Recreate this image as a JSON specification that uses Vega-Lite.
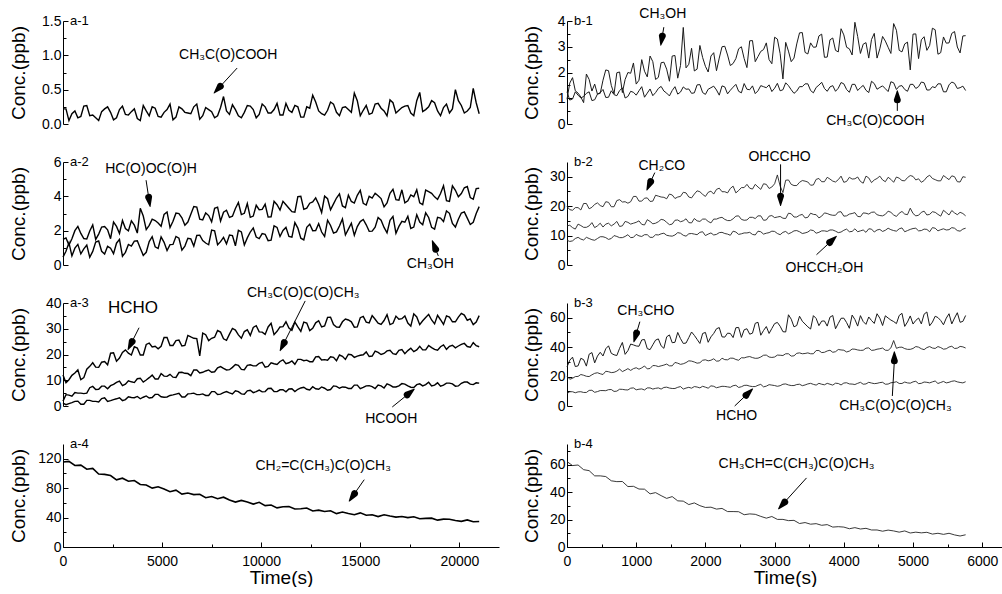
{
"$schema":"https://vega.github.io/schema/vega-lite/v6.json",
"autosize":{"type":"pad"},
"padding":{"left":8,"top":7,"right":0,"bottom":0},
"background":"white",
"config":{"font":"Liberation Sans","view":{"stroke":null},
"axis":{"grid":false,"domainColor":"#000","tickColor":"#000","labelColor":"#000","titleColor":"#000","labelFont":"Liberation Sans","titleFont":"Liberation Sans","labelFontSize":14,"titleFontSize":19,"titleFontWeight":"normal","tickSize":-5,"labelPadding":7,"titlePadding":4,"tickWidth":1,"domainWidth":1,"labelFlush":false,"labelOverlap":false},
"text":{"font":"Liberation Sans","color":"#000"}},
"datasets":{
"a1":[{"t":0,"p":0.22},{"t":300,"p":0.05},{"t":600,"p":0.19},{"t":900,"p":0.11},{"t":1200,"p":0.27},{"t":1500,"p":0.13},{"t":1800,"p":0.05},{"t":2100,"p":0.22},{"t":2400,"p":0.17},{"t":2700,"p":0.09},{"t":3000,"p":0.26},{"t":3300,"p":0.13},{"t":3600,"p":0.22},{"t":3900,"p":0.05},{"t":4200,"p":0.19},{"t":4500,"p":0.25},{"t":4800,"p":0.11},{"t":5100,"p":0.17},{"t":5400,"p":0.29},{"t":5700,"p":0.10},{"t":6000,"p":0.22},{"t":6300,"p":0.16},{"t":6600,"p":0.25},{"t":6900,"p":0.07},{"t":7200,"p":0.24},{"t":7500,"p":0.18},{"t":7800,"p":0.12},{"t":8100,"p":0.40},{"t":8400,"p":0.14},{"t":8700,"p":0.21},{"t":9000,"p":0.09},{"t":9300,"p":0.27},{"t":9600,"p":0.21},{"t":9900,"p":0.14},{"t":10200,"p":0.25},{"t":10500,"p":0.16},{"t":10800,"p":0.30},{"t":11100,"p":0.13},{"t":11400,"p":0.20},{"t":11700,"p":0.27},{"t":12000,"p":0.10},{"t":12300,"p":0.25},{"t":12600,"p":0.42},{"t":12900,"p":0.19},{"t":13200,"p":0.13},{"t":13500,"p":0.32},{"t":13800,"p":0.17},{"t":14100,"p":0.24},{"t":14400,"p":0.21},{"t":14700,"p":0.45},{"t":15000,"p":0.12},{"t":15300,"p":0.27},{"t":15600,"p":0.16},{"t":15900,"p":0.30},{"t":16200,"p":0.19},{"t":16500,"p":0.35},{"t":16800,"p":0.16},{"t":17100,"p":0.24},{"t":17400,"p":0.27},{"t":17700,"p":0.12},{"t":18000,"p":0.46},{"t":18300,"p":0.21},{"t":18600,"p":0.34},{"t":18900,"p":0.19},{"t":19200,"p":0.24},{"t":19500,"p":0.16},{"t":19800,"p":0.50},{"t":20100,"p":0.27},{"t":20400,"p":0.19},{"t":20700,"p":0.52},{"t":21000,"p":0.15},
{"t":150,"p":0.22},{"t":450,"p":0.15},{"t":750,"p":0.09},{"t":1050,"p":0.26},{"t":1350,"p":0.12},{"t":1650,"p":0.09},{"t":1950,"p":0.18},{"t":2250,"p":0.25},{"t":2550,"p":0.06},{"t":2850,"p":0.21},{"t":3150,"p":0.14},{"t":3450,"p":0.18},{"t":3750,"p":0.08},{"t":4050,"p":0.27},{"t":4350,"p":0.12},{"t":4650,"p":0.23},{"t":4950,"p":0.10},{"t":5250,"p":0.21},{"t":5550,"p":0.06},{"t":5850,"p":0.25},{"t":6150,"p":0.17},{"t":6450,"p":0.15},{"t":6750,"p":0.29},{"t":7050,"p":0.12},{"t":7350,"p":0.21},{"t":7650,"p":0.09},{"t":7950,"p":0.24},{"t":8250,"p":0.19},{"t":8550,"p":0.28},{"t":8850,"p":0.12},{"t":9150,"p":0.17},{"t":9450,"p":0.26},{"t":9750,"p":0.09},{"t":10050,"p":0.29},{"t":10350,"p":0.16},{"t":10650,"p":0.21},{"t":10950,"p":0.13},{"t":11250,"p":0.30},{"t":11550,"p":0.17},{"t":11850,"p":0.25},{"t":12150,"p":0.10},{"t":12450,"p":0.23},{"t":12750,"p":0.32},{"t":13050,"p":0.15},{"t":13350,"p":0.20},{"t":13650,"p":0.29},{"t":13950,"p":0.12},{"t":14250,"p":0.25},{"t":14550,"p":0.17},{"t":14850,"p":0.34},{"t":15150,"p":0.20},{"t":15450,"p":0.14},{"t":15750,"p":0.29},{"t":16050,"p":0.23},{"t":16350,"p":0.12},{"t":16650,"p":0.31},{"t":16950,"p":0.20},{"t":17250,"p":0.26},{"t":17550,"p":0.16},{"t":17850,"p":0.34},{"t":18150,"p":0.18},{"t":18450,"p":0.25},{"t":18750,"p":0.31},{"t":19050,"p":0.12},{"t":19350,"p":0.29},{"t":19650,"p":0.22},{"t":19950,"p":0.34},{"t":20250,"p":0.16},{"t":20550,"p":0.24},{"t":20850,"p":0.31}],
"a2":[{"t":0,"f":1.49,"m":0.46},{"t":300,"f":1.16,"m":1.30},{"t":600,"f":2.00,"m":0.98},{"t":900,"f":1.84,"m":0.65},{"t":1200,"f":1.51,"m":1.16},{"t":1500,"f":2.34,"m":0.79},{"t":1800,"f":1.80,"m":1.40},{"t":2100,"f":2.24,"m":0.64},{"t":2400,"f":1.53,"m":0.98},{"t":2700,"f":2.25,"m":1.27},{"t":3000,"f":2.59,"m":0.51},{"t":3300,"f":1.99,"m":1.20},{"t":3600,"f":2.32,"m":1.39},{"t":3900,"f":3.30,"m":0.98},{"t":4200,"f":2.06,"m":0.74},{"t":4500,"f":2.67,"m":1.65},{"t":4800,"f":2.45,"m":0.96},{"t":5100,"f":2.95,"m":1.32},{"t":5400,"f":2.18,"m":1.19},{"t":5700,"f":3.02,"m":1.66},{"t":6000,"f":2.75,"m":0.86},{"t":6300,"f":2.50,"m":1.56},{"t":6600,"f":3.41,"m":1.10},{"t":6900,"f":2.67,"m":1.74},{"t":7200,"f":3.03,"m":1.28},{"t":7500,"f":2.51,"m":2.03},{"t":7800,"f":3.37,"m":1.18},{"t":8100,"f":3.07,"m":1.61},{"t":8400,"f":2.77,"m":1.75},{"t":8700,"f":3.29,"m":1.12},{"t":9000,"f":2.94,"m":1.93},{"t":9300,"f":3.58,"m":1.58},{"t":9600,"f":2.85,"m":2.16},{"t":9900,"f":3.22,"m":1.54},{"t":10200,"f":3.54,"m":1.79},{"t":10500,"f":2.81,"m":1.45},{"t":10800,"f":3.51,"m":2.19},{"t":11100,"f":3.71,"m":2.01},{"t":11400,"f":3.31,"m":1.66},{"t":11700,"f":3.08,"m":2.47},{"t":12000,"f":4.00,"m":1.56},{"t":12300,"f":3.31,"m":2.20},{"t":12600,"f":3.67,"m":2.00},{"t":12900,"f":3.54,"m":2.41},{"t":13200,"f":4.01,"m":1.66},{"t":13500,"f":3.21,"m":2.30},{"t":13800,"f":3.90,"m":1.93},{"t":14100,"f":3.44,"m":2.68},{"t":14400,"f":4.07,"m":2.09},{"t":14700,"f":3.61,"m":1.73},{"t":15000,"f":4.35,"m":2.53},{"t":15300,"f":3.49,"m":2.34},{"t":15600,"f":3.90,"m":1.97},{"t":15900,"f":4.03,"m":2.77},{"t":16200,"f":3.39,"m":2.19},{"t":16500,"f":4.18,"m":2.60},{"t":16800,"f":3.81,"m":1.85},{"t":17100,"f":4.38,"m":2.54},{"t":17400,"f":3.74,"m":2.84},{"t":17700,"f":3.98,"m":2.21},{"t":18000,"f":3.62,"m":2.50},{"t":18300,"f":4.36,"m":3.04},{"t":18600,"f":4.17,"m":2.19},{"t":18900,"f":3.82,"m":2.78},{"t":19200,"f":4.62,"m":2.53},{"t":19500,"f":3.71,"m":3.01},{"t":19800,"f":4.35,"m":2.21},{"t":20100,"f":4.16,"m":3.03},{"t":20400,"f":4.57,"m":2.73},{"t":20700,"f":3.83,"m":2.49},{"t":21000,"f":4.47,"m":3.40},
{"t":150,"f":1.58,"m":0.80},{"t":450,"f":1.53,"m":0.53},{"t":750,"f":2.25,"m":1.20},{"t":1050,"f":1.54,"m":0.94},{"t":1350,"f":1.98,"m":0.45},{"t":1650,"f":1.49,"m":1.34},{"t":1950,"f":2.21,"m":0.80},{"t":2250,"f":2.05,"m":1.09},{"t":2550,"f":2.50,"m":0.66},{"t":2850,"f":1.84,"m":1.49},{"t":3150,"f":2.12,"m":0.74},{"t":3450,"f":2.57,"m":1.10},{"t":3750,"f":1.86,"m":1.41},{"t":4050,"f":2.85,"m":0.56},{"t":4350,"f":2.31,"m":1.36},{"t":4650,"f":2.59,"m":1.06},{"t":4950,"f":2.26,"m":1.64},{"t":5250,"f":3.09,"m":0.84},{"t":5550,"f":2.55,"m":1.20},{"t":5850,"f":2.99,"m":1.56},{"t":6150,"f":2.32,"m":1.10},{"t":6450,"f":2.96,"m":1.52},{"t":6750,"f":3.37,"m":1.72},{"t":7050,"f":2.63,"m":1.42},{"t":7350,"f":2.88,"m":1.18},{"t":7650,"f":3.30,"m":1.99},{"t":7950,"f":2.56,"m":1.36},{"t":8250,"f":3.19,"m":1.23},{"t":8550,"f":2.84,"m":1.71},{"t":8850,"f":3.64,"m":2.02},{"t":9150,"f":3.01,"m":1.17},{"t":9450,"f":2.78,"m":1.92},{"t":9750,"f":3.48,"m":1.63},{"t":10050,"f":3.24,"m":1.83},{"t":10350,"f":2.79,"m":1.42},{"t":10650,"f":3.71,"m":2.28},{"t":10950,"f":3.20,"m":1.66},{"t":11250,"f":3.51,"m":2.19},{"t":11550,"f":3.11,"m":1.62},{"t":11850,"f":3.98,"m":2.15},{"t":12150,"f":3.24,"m":1.46},{"t":12450,"f":3.60,"m":2.37},{"t":12750,"f":3.91,"m":2.01},{"t":13050,"f":3.06,"m":1.92},{"t":13350,"f":3.86,"m":2.61},{"t":13650,"f":3.56,"m":1.86},{"t":13950,"f":4.14,"m":2.27},{"t":14250,"f":3.34,"m":1.75},{"t":14550,"f":3.70,"m":2.43},{"t":14850,"f":4.06,"m":2.24},{"t":15150,"f":3.59,"m":2.65},{"t":15450,"f":4.00,"m":1.96},{"t":15750,"f":4.18,"m":2.20},{"t":16050,"f":3.87,"m":2.61},{"t":16350,"f":3.62,"m":1.87},{"t":16650,"f":4.41,"m":2.83},{"t":16950,"f":3.77,"m":2.25},{"t":17250,"f":3.62,"m":2.49},{"t":17550,"f":4.08,"m":2.13},{"t":17850,"f":4.38,"m":2.93},{"t":18150,"f":3.52,"m":2.35},{"t":18450,"f":4.27,"m":2.77},{"t":18750,"f":3.97,"m":2.09},{"t":19050,"f":4.16,"m":2.73},{"t":19350,"f":3.75,"m":3.15},{"t":19650,"f":4.61,"m":2.42},{"t":19950,"f":3.98,"m":2.67},{"t":20250,"f":4.50,"m":3.09},{"t":20550,"f":3.93,"m":2.36},{"t":20850,"f":4.45,"m":3.00}],
"a3":[{"t":0,"h":12.0,"d":1.9,"f":1.1},{"t":300,"h":10.2,"d":4.2,"f":0.9},{"t":600,"h":12.8,"d":5.2,"f":1.8},{"t":900,"h":10.2,"d":5.0,"f":0.7},{"t":1200,"h":14.3,"d":5.0,"f":2.2},{"t":1500,"h":16.8,"d":7.6,"f":1.8},{"t":1800,"h":15.0,"d":6.5,"f":1.6},{"t":2100,"h":17.3,"d":7.7,"f":3.2},{"t":2400,"h":20.5,"d":7.9,"f":2.1},{"t":2700,"h":17.4,"d":9.2,"f":2.8},{"t":3000,"h":20.8,"d":7.9,"f":2.1},{"t":3300,"h":20.5,"d":9.8,"f":3.6},{"t":3600,"h":23.0,"d":9.1,"f":3.2},{"t":3900,"h":19.8,"d":10.8,"f":2.8},{"t":4200,"h":23.9,"d":10.1,"f":3.9},{"t":4500,"h":22.9,"d":12.0,"f":3.3},{"t":4800,"h":22.2,"d":10.5,"f":4.5},{"t":5100,"h":26.6,"d":11.6,"f":3.4},{"t":5400,"h":23.5,"d":12.3,"f":4.1},{"t":5700,"h":25.4,"d":11.1,"f":4.6},{"t":6000,"h":23.3,"d":13.1,"f":3.5},{"t":6300,"h":27.4,"d":12.6,"f":4.7},{"t":6600,"h":26.3,"d":14.0,"f":5.0},{"t":6900,"h":19.5,"d":12.8,"f":4.4},{"t":7200,"h":27.7,"d":13.6,"f":4.1},{"t":7500,"h":26.3,"d":13.1,"f":5.6},{"t":7800,"h":29.3,"d":14.8,"f":4.5},{"t":8100,"h":26.1,"d":14.6,"f":5.2},{"t":8400,"h":27.9,"d":14.1,"f":5.1},{"t":8700,"h":29.5,"d":16.1,"f":5.9},{"t":9000,"h":26.3,"d":14.2,"f":4.7},{"t":9300,"h":29.6,"d":15.8,"f":5.9},{"t":9600,"h":30.5,"d":15.6,"f":5.2},{"t":9900,"h":28.8,"d":16.6,"f":6.2},{"t":10200,"h":27.8,"d":15.1,"f":5.6},{"t":10500,"h":32.1,"d":16.8,"f":6.9},{"t":10800,"h":29.0,"d":16.1,"f":5.6},{"t":11100,"h":30.8,"d":17.9,"f":6.3},{"t":11400,"h":30.3,"d":16.8,"f":6.6},{"t":11700,"h":32.6,"d":16.2,"f":5.6},{"t":12000,"h":29.0,"d":18.1,"f":7.0},{"t":12300,"h":32.2,"d":17.8,"f":6.5},{"t":12600,"h":30.2,"d":17.2,"f":7.5},{"t":12900,"h":33.1,"d":19.2,"f":6.5},{"t":13200,"h":31.1,"d":18.0,"f":6.9},{"t":13500,"h":34.5,"d":19.1,"f":6.4},{"t":13800,"h":30.7,"d":17.6,"f":7.6},{"t":14100,"h":32.7,"d":19.3,"f":7.4},{"t":14400,"h":33.4,"d":20.1,"f":6.8},{"t":14700,"h":30.6,"d":18.9,"f":8.1},{"t":15000,"h":34.3,"d":19.7,"f":6.7},{"t":15300,"h":32.6,"d":21.0,"f":7.8},{"t":15600,"h":35.1,"d":19.4,"f":7.5},{"t":15900,"h":32.2,"d":20.8,"f":8.1},{"t":16200,"h":33.2,"d":20.4,"f":7.0},{"t":16500,"h":31.6,"d":21.6,"f":8.1},{"t":16800,"h":34.9,"d":20.0,"f":7.4},{"t":17100,"h":33.9,"d":21.9,"f":8.7},{"t":17400,"h":32.2,"d":21.5,"f":7.8},{"t":17700,"h":35.8,"d":21.1,"f":7.2},{"t":18000,"h":31.6,"d":23.2,"f":8.6},{"t":18300,"h":34.4,"d":21.8,"f":8.3},{"t":18600,"h":33.4,"d":22.7,"f":7.8},{"t":18900,"h":35.2,"d":21.7,"f":9.0},{"t":19200,"h":31.7,"d":23.7,"f":8.1},{"t":19500,"h":34.5,"d":23.2,"f":8.9},{"t":19800,"h":32.7,"d":22.6,"f":7.7},{"t":20100,"h":36.0,"d":23.9,"f":8.8},{"t":20400,"h":33.3,"d":23.1,"f":9.3},{"t":20700,"h":31.6,"d":24.6,"f":8.3},{"t":21000,"h":35.1,"d":23.0,"f":8.9},
{"t":150,"h":9.0,"d":4.4,"f":0.5},{"t":450,"h":11.9,"d":3.8,"f":1.3},{"t":750,"h":14.0,"d":5.0,"f":1.9},{"t":1050,"h":11.0,"d":4.8,"f":0.7},{"t":1350,"h":15.4,"d":7.1,"f":2.2},{"t":1650,"h":15.1,"d":6.4,"f":1.8},{"t":1950,"h":17.0,"d":7.7,"f":2.9},{"t":2250,"h":16.0,"d":6.7,"f":1.8},{"t":2550,"h":20.7,"d":8.4,"f":2.5},{"t":2850,"h":18.6,"d":9.7,"f":3.2},{"t":3150,"h":21.8,"d":8.5,"f":2.5},{"t":3450,"h":19.8,"d":9.4,"f":3.3},{"t":3750,"h":22.5,"d":10.6,"f":3.7},{"t":4050,"h":19.8,"d":9.3,"f":3.4},{"t":4350,"h":24.4,"d":11.0,"f":3.1},{"t":4650,"h":23.2,"d":10.5,"f":4.5},{"t":4950,"h":23.2,"d":12.6,"f":3.6},{"t":5250,"h":26.6,"d":11.5,"f":3.5},{"t":5550,"h":23.5,"d":11.2,"f":4.3},{"t":5850,"h":25.6,"d":13.0,"f":4.9},{"t":6150,"h":23.5,"d":12.7,"f":3.5},{"t":6450,"h":26.8,"d":11.8,"f":4.8},{"t":6750,"h":26.2,"d":14.0,"f":4.4},{"t":7050,"h":28.3,"d":13.1,"f":4.7},{"t":7350,"h":25.4,"d":14.0,"f":4.1},{"t":7650,"h":26.7,"d":13.3,"f":5.6},{"t":7950,"h":28.7,"d":15.3,"f":4.6},{"t":8250,"h":25.5,"d":14.0,"f":5.6},{"t":8550,"h":30.1,"d":15.0,"f":4.7},{"t":8850,"h":27.6,"d":15.8,"f":5.6},{"t":9150,"h":28.9,"d":14.1,"f":4.6},{"t":9450,"h":27.4,"d":16.0,"f":6.1},{"t":9750,"h":31.2,"d":15.6,"f":5.6},{"t":10050,"h":28.7,"d":17.0,"f":5.5},{"t":10350,"h":30.7,"d":15.4,"f":6.8},{"t":10650,"h":27.7,"d":16.4,"f":5.6},{"t":10950,"h":30.7,"d":17.3,"f":6.3},{"t":11250,"h":32.7,"d":16.4,"f":5.5},{"t":11550,"h":29.4,"d":17.5,"f":6.7},{"t":11850,"h":30.7,"d":18.1,"f":6.5},{"t":12150,"h":32.6,"d":17.6,"f":7.3},{"t":12450,"h":29.3,"d":17.2,"f":6.2},{"t":12750,"h":32.3,"d":19.1,"f":6.7},{"t":13050,"h":30.7,"d":17.9,"f":7.4},{"t":13350,"h":34.4,"d":17.8,"f":6.1},{"t":13650,"h":31.6,"d":18.9,"f":7.8},{"t":13950,"h":30.6,"d":19.8,"f":6.9},{"t":14250,"h":33.8,"d":18.1,"f":7.3},{"t":14550,"h":32.7,"d":19.9,"f":6.8},{"t":14850,"h":30.7,"d":19.4,"f":8.1},{"t":15150,"h":34.8,"d":19.9,"f":7.2},{"t":15450,"h":32.3,"d":19.2,"f":7.9},{"t":15750,"h":33.7,"d":21.3,"f":6.8},{"t":16050,"h":31.7,"d":20.0,"f":7.8},{"t":16350,"h":35.5,"d":21.4,"f":8.6},{"t":16650,"h":32.1,"d":20.3,"f":7.4},{"t":16950,"h":33.7,"d":21.6,"f":7.8},{"t":17250,"h":35.0,"d":20.3,"f":8.5},{"t":17550,"h":31.0,"d":22.4,"f":7.3},{"t":17850,"h":34.6,"d":21.8,"f":8.3},{"t":18150,"h":33.1,"d":21.8,"f":7.8},{"t":18450,"h":35.6,"d":23.5,"f":9.2},{"t":18750,"h":31.9,"d":22.0,"f":8.1},{"t":19050,"h":33.5,"d":23.0,"f":7.7},{"t":19350,"h":35.0,"d":22.0,"f":8.9},{"t":19650,"h":32.7,"d":23.6,"f":8.6},{"t":19950,"h":34.5,"d":23.3,"f":7.8},{"t":20250,"h":35.3,"d":24.3,"f":9.3},{"t":20550,"h":33.8,"d":22.8,"f":8.5},{"t":20850,"h":32.6,"d":23.4,"f":9.0}],
"a4":[{"t":0,"k":115.6},{"t":300,"k":116.4},{"t":600,"k":110.8},{"t":900,"k":111.3},{"t":1200,"k":105.7},{"t":1500,"k":106.8},{"t":1800,"k":99.2},{"t":2100,"k":98.7},{"t":2400,"k":97.1},{"t":2700,"k":91.3},{"t":3000,"k":93.5},{"t":3300,"k":89.4},{"t":3600,"k":90.4},{"t":3900,"k":85.0},{"t":4200,"k":84.2},{"t":4500,"k":80.0},{"t":4800,"k":81.8},{"t":5100,"k":78.8},{"t":5400,"k":75.2},{"t":5700,"k":77.3},{"t":6000,"k":71.9},{"t":6300,"k":73.4},{"t":6600,"k":71.2},{"t":6900,"k":71.7},{"t":7200,"k":67.0},{"t":7500,"k":68.6},{"t":7800,"k":65.6},{"t":8100,"k":67.7},{"t":8400,"k":63.8},{"t":8700,"k":61.0},{"t":9000,"k":63.3},{"t":9300,"k":61.2},{"t":9600,"k":58.3},{"t":9900,"k":60.7},{"t":10200,"k":56.3},{"t":10500,"k":57.1},{"t":10800,"k":53.2},{"t":11100,"k":54.7},{"t":11400,"k":54.9},{"t":11700,"k":51.7},{"t":12000,"k":51.9},{"t":12300,"k":52.9},{"t":12600,"k":48.9},{"t":12900,"k":50.1},{"t":13200,"k":48.3},{"t":13500,"k":49.2},{"t":13800,"k":45.4},{"t":14100,"k":47.5},{"t":14400,"k":45.6},{"t":14700,"k":43.9},{"t":15000,"k":46.4},{"t":15300,"k":43.1},{"t":15600,"k":43.8},{"t":15900,"k":41.3},{"t":16200,"k":43.8},{"t":16500,"k":42.1},{"t":16800,"k":40.6},{"t":17100,"k":41.5},{"t":17400,"k":40.0},{"t":17700,"k":41.1},{"t":18000,"k":38.5},{"t":18300,"k":38.9},{"t":18600,"k":39.2},{"t":18900,"k":36.5},{"t":19200,"k":37.9},{"t":19500,"k":37.8},{"t":19800,"k":36.1},{"t":20100,"k":34.8},{"t":20400,"k":36.8},{"t":20700,"k":34.3},{"t":21000,"k":34.7}],
"b1":[{"t":0,"m":0.96,"p":1.25},{"t":80,"m":1.80,"p":0.97},{"t":160,"m":1.20,"p":1.12},{"t":240,"m":0.83,"p":1.07},{"t":320,"m":1.73,"p":1.25},{"t":400,"m":1.55,"p":0.94},{"t":480,"m":1.19,"p":1.22},{"t":560,"m":2.10,"p":1.03},{"t":640,"m":1.50,"p":1.29},{"t":720,"m":1.99,"p":1.10},{"t":800,"m":1.22,"p":1.40},{"t":880,"m":2.00,"p":1.07},{"t":960,"m":2.37,"p":1.23},{"t":1040,"m":1.70,"p":1.29},{"t":1120,"m":2.05,"p":1.04},{"t":1200,"m":2.64,"p":1.36},{"t":1280,"m":1.73,"p":1.22},{"t":1360,"m":2.38,"p":1.46},{"t":1440,"m":2.13,"p":1.20},{"t":1520,"m":2.64,"p":1.30},{"t":1600,"m":1.78,"p":1.16},{"t":1680,"m":3.75,"p":1.44},{"t":1760,"m":2.32,"p":1.36},{"t":1840,"m":2.06,"p":1.21},{"t":1920,"m":3.05,"p":1.53},{"t":2000,"m":2.24,"p":1.15},{"t":2080,"m":2.64,"p":1.41},{"t":2160,"m":2.07,"p":1.32},{"t":2240,"m":3.00,"p":1.48},{"t":2320,"m":2.68,"p":1.17},{"t":2400,"m":2.35,"p":1.43},{"t":2480,"m":2.92,"p":1.27},{"t":2560,"m":2.54,"p":1.57},{"t":2640,"m":3.23,"p":1.33},{"t":2720,"m":2.42,"p":1.18},{"t":2800,"m":2.82,"p":1.49},{"t":2880,"m":3.15,"p":1.41},{"t":2960,"m":2.34,"p":1.26},{"t":3040,"m":3.30,"p":1.58},{"t":3120,"m":1.75,"p":1.33},{"t":3200,"m":2.83,"p":1.49},{"t":3280,"m":2.56,"p":1.19},{"t":3360,"m":3.54,"p":1.45},{"t":3440,"m":2.78,"p":1.56},{"t":3520,"m":3.15,"p":1.30},{"t":3600,"m":2.99,"p":1.42},{"t":3680,"m":3.49,"p":1.62},{"t":3760,"m":2.60,"p":1.27},{"t":3840,"m":3.34,"p":1.49},{"t":3920,"m":2.80,"p":1.39},{"t":4000,"m":3.46,"p":1.56},{"t":4080,"m":2.92,"p":1.23},{"t":4160,"m":3.95,"p":1.54},{"t":4240,"m":2.74,"p":1.41},{"t":4320,"m":3.16,"p":1.31},{"t":4400,"m":3.28,"p":1.66},{"t":4480,"m":2.56,"p":1.35},{"t":4560,"m":3.40,"p":1.48},{"t":4640,"m":2.98,"p":1.26},{"t":4720,"m":3.90,"p":1.60},{"t":4800,"m":2.86,"p":1.47},{"t":4880,"m":3.11,"p":1.34},{"t":4960,"m":2.10,"p":1.54},{"t":5040,"m":3.50,"p":1.38},{"t":5120,"m":3.27,"p":1.63},{"t":5200,"m":2.86,"p":1.32},{"t":5280,"m":3.72,"p":1.45},{"t":5360,"m":2.71,"p":1.56},{"t":5440,"m":3.38,"p":1.25},{"t":5520,"m":3.15,"p":1.52},{"t":5600,"m":3.59,"p":1.58},{"t":5680,"m":2.76,"p":1.41},{"t":5760,"m":3.43,"p":1.30},
{"t":40,"m":1.59,"p":0.93},{"t":120,"m":1.29,"p":1.25},{"t":200,"m":1.05,"p":1.01},{"t":280,"m":1.94,"p":1.19},{"t":360,"m":1.28,"p":0.91},{"t":440,"m":1.16,"p":1.16},{"t":520,"m":1.70,"p":1.34},{"t":600,"m":2.07,"p":1.04},{"t":680,"m":1.17,"p":1.14},{"t":760,"m":2.02,"p":1.30},{"t":840,"m":1.73,"p":1.01},{"t":920,"m":1.97,"p":1.27},{"t":1000,"m":1.55,"p":1.12},{"t":1080,"m":2.50,"p":1.45},{"t":1160,"m":1.83,"p":1.20},{"t":1240,"m":2.42,"p":1.10},{"t":1320,"m":1.81,"p":1.38},{"t":1400,"m":2.40,"p":1.28},{"t":1480,"m":1.66,"p":1.09},{"t":1560,"m":2.66,"p":1.45},{"t":1640,"m":2.27,"p":1.24},{"t":1720,"m":2.18,"p":1.35},{"t":1800,"m":2.94,"p":1.19},{"t":1880,"m":2.13,"p":1.52},{"t":1960,"m":2.58,"p":1.22},{"t":2040,"m":2.02,"p":1.35},{"t":2120,"m":2.77,"p":1.47},{"t":2200,"m":2.56,"p":1.12},{"t":2280,"m":3.02,"p":1.44},{"t":2360,"m":2.27,"p":1.31},{"t":2440,"m":2.54,"p":1.54},{"t":2520,"m":3.00,"p":1.21},{"t":2600,"m":2.19,"p":1.35},{"t":2680,"m":3.24,"p":1.48},{"t":2760,"m":2.62,"p":1.29},{"t":2840,"m":2.89,"p":1.45},{"t":2920,"m":2.50,"p":1.52},{"t":3000,"m":3.37,"p":1.39},{"t":3080,"m":2.73,"p":1.29},{"t":3160,"m":3.17,"p":1.60},{"t":3240,"m":2.42,"p":1.33},{"t":3320,"m":3.11,"p":1.28},{"t":3400,"m":3.55,"p":1.45},{"t":3480,"m":2.72,"p":1.56},{"t":3560,"m":2.98,"p":1.21},{"t":3640,"m":3.42,"p":1.51},{"t":3720,"m":2.59,"p":1.38},{"t":3800,"m":3.27,"p":1.44},{"t":3880,"m":2.86,"p":1.27},{"t":3960,"m":3.70,"p":1.61},{"t":4040,"m":2.98,"p":1.34},{"t":4120,"m":2.68,"p":1.54},{"t":4200,"m":3.40,"p":1.30},{"t":4280,"m":3.10,"p":1.50},{"t":4360,"m":2.56,"p":1.22},{"t":4440,"m":3.52,"p":1.57},{"t":4520,"m":2.92,"p":1.42},{"t":4600,"m":3.22,"p":1.37},{"t":4680,"m":2.74,"p":1.64},{"t":4760,"m":3.64,"p":1.34},{"t":4840,"m":2.80,"p":1.49},{"t":4920,"m":3.18,"p":1.27},{"t":5000,"m":3.49,"p":1.54},{"t":5080,"m":2.54,"p":1.45},{"t":5160,"m":3.39,"p":1.60},{"t":5240,"m":3.05,"p":1.32},{"t":5320,"m":3.66,"p":1.41},{"t":5400,"m":2.77,"p":1.56},{"t":5480,"m":3.14,"p":1.25},{"t":5560,"m":3.52,"p":1.63},{"t":5640,"m":2.99,"p":1.38},{"t":5720,"m":3.42,"p":1.47}],
"b2":[{"t":0,"k":19.9,"g":13.3,"o":8.4},{"t":80,"k":18.6,"g":12.7,"o":8.2},{"t":160,"k":19.5,"g":13.9,"o":9.4},{"t":240,"k":20.9,"g":12.8,"o":8.5},{"t":320,"k":19.1,"g":13.3,"o":9.0},{"t":400,"k":20.6,"g":12.7,"o":8.4},{"t":480,"k":20.2,"g":14.2,"o":9.6},{"t":560,"k":21.5,"g":13.9,"o":9.3},{"t":640,"k":19.8,"g":13.3,"o":9.0},{"t":720,"k":21.9,"g":14.8,"o":9.7},{"t":800,"k":21.4,"g":13.3,"o":9.3},{"t":880,"k":21.0,"g":14.5,"o":10.3},{"t":960,"k":23.3,"g":14.2,"o":9.4},{"t":1040,"k":21.7,"g":15.0,"o":9.9},{"t":1120,"k":22.7,"g":13.6,"o":10.3},{"t":1200,"k":21.6,"g":14.8,"o":9.4},{"t":1280,"k":23.7,"g":14.2,"o":10.3},{"t":1360,"k":23.1,"g":15.5,"o":10.6},{"t":1440,"k":22.5,"g":14.5,"o":10.1},{"t":1520,"k":23.8,"g":13.9,"o":9.8},{"t":1600,"k":23.1,"g":15.3,"o":11.0},{"t":1680,"k":24.7,"g":15.0,"o":10.1},{"t":1760,"k":23.1,"g":14.4,"o":10.6},{"t":1840,"k":24.1,"g":15.8,"o":10.5},{"t":1920,"k":24.9,"g":14.8,"o":11.1},{"t":2000,"k":23.3,"g":15.6,"o":10.0},{"t":2080,"k":25.1,"g":14.3,"o":10.9},{"t":2160,"k":25.7,"g":15.6,"o":10.4},{"t":2240,"k":24.9,"g":16.2,"o":11.1},{"t":2320,"k":24.5,"g":15.1,"o":10.5},{"t":2400,"k":26.8,"g":15.7,"o":11.5},{"t":2480,"k":25.3,"g":16.7,"o":10.4},{"t":2560,"k":26.3,"g":15.2,"o":10.9},{"t":2640,"k":26.1,"g":16.2,"o":11.1},{"t":2720,"k":27.4,"g":15.8,"o":10.2},{"t":2800,"k":25.7,"g":16.7,"o":11.3},{"t":2880,"k":27.4,"g":15.3,"o":10.8},{"t":2960,"k":26.5,"g":16.8,"o":11.5},{"t":3040,"k":30.6,"g":16.3,"o":10.7},{"t":3120,"k":24.6,"g":15.9,"o":11.1},{"t":3200,"k":28.9,"g":17.6,"o":10.6},{"t":3280,"k":27.0,"g":16.3,"o":11.6},{"t":3360,"k":28.1,"g":16.9,"o":11.3},{"t":3440,"k":28.5,"g":16.0,"o":10.9},{"t":3520,"k":27.1,"g":17.6,"o":11.9},{"t":3600,"k":29.1,"g":17.1,"o":10.8},{"t":3680,"k":28.3,"g":16.6,"o":11.6},{"t":3760,"k":29.8,"g":17.5,"o":11.4},{"t":3840,"k":28.5,"g":16.9,"o":11.9},{"t":3920,"k":29.0,"g":18.0,"o":11.0},{"t":4000,"k":28.1,"g":16.6,"o":11.8},{"t":4080,"k":29.8,"g":17.3,"o":11.3},{"t":4160,"k":29.3,"g":17.8,"o":12.3},{"t":4240,"k":28.4,"g":16.4,"o":11.6},{"t":4320,"k":30.2,"g":17.6,"o":11.1},{"t":4400,"k":28.0,"g":17.9,"o":12.2},{"t":4480,"k":29.4,"g":17.1,"o":11.9},{"t":4560,"k":28.9,"g":16.7,"o":11.4},{"t":4640,"k":29.8,"g":18.3,"o":12.5},{"t":4720,"k":28.1,"g":17.0,"o":11.7},{"t":4800,"k":29.5,"g":17.6,"o":12.3},{"t":4880,"k":28.6,"g":17.3,"o":11.3},{"t":4960,"k":30.4,"g":19.3,"o":12.1},{"t":5040,"k":28.9,"g":16.7,"o":12.5},{"t":5120,"k":28.1,"g":17.9,"o":11.7},{"t":5200,"k":29.9,"g":17.0,"o":12.1},{"t":5280,"k":29.4,"g":18.1,"o":12.7},{"t":5360,"k":28.6,"g":17.2,"o":11.6},{"t":5440,"k":30.4,"g":18.6,"o":12.3},{"t":5520,"k":29.0,"g":17.0,"o":12.0},{"t":5600,"k":30.0,"g":17.7,"o":12.5},{"t":5680,"k":28.2,"g":17.9,"o":11.5},{"t":5760,"k":29.8,"g":16.7,"o":12.5},
{"t":40,"k":18.8,"g":13.5,"o":8.0},{"t":120,"k":19.5,"g":12.2,"o":9.0},{"t":200,"k":18.7,"g":13.4,"o":8.8},{"t":280,"k":20.9,"g":12.8,"o":9.4},{"t":360,"k":19.6,"g":14.4,"o":8.6},{"t":440,"k":21.1,"g":13.3,"o":9.0},{"t":520,"k":19.8,"g":12.9,"o":9.6},{"t":600,"k":21.3,"g":14.2,"o":8.7},{"t":680,"k":19.8,"g":13.9,"o":10.0},{"t":760,"k":22.2,"g":13.1,"o":9.3},{"t":840,"k":21.5,"g":14.8,"o":9.7},{"t":920,"k":21.5,"g":13.9,"o":9.3},{"t":1000,"k":23.3,"g":14.5,"o":10.4},{"t":1080,"k":21.7,"g":13.8,"o":9.7},{"t":1160,"k":22.8,"g":15.4,"o":10.3},{"t":1240,"k":21.7,"g":14.0,"o":9.4},{"t":1320,"k":23.4,"g":14.7,"o":10.2},{"t":1400,"k":23.0,"g":15.3,"o":10.8},{"t":1480,"k":24.1,"g":13.7,"o":9.9},{"t":1560,"k":22.6,"g":15.2,"o":10.2},{"t":1640,"k":23.3,"g":14.7,"o":10.8},{"t":1720,"k":24.5,"g":15.7,"o":9.8},{"t":1800,"k":22.8,"g":14.3,"o":10.7},{"t":1880,"k":25.2,"g":15.0,"o":10.3},{"t":1960,"k":24.0,"g":15.6,"o":11.3},{"t":2040,"k":24.7,"g":14.8,"o":10.5},{"t":2120,"k":24.1,"g":15.6,"o":10.2},{"t":2200,"k":26.1,"g":16.0,"o":11.0},{"t":2280,"k":24.9,"g":15.5,"o":10.7},{"t":2360,"k":26.0,"g":15.1,"o":10.1},{"t":2440,"k":24.5,"g":16.6,"o":11.2},{"t":2520,"k":26.3,"g":15.5,"o":10.6},{"t":2600,"k":27.4,"g":15.3,"o":10.9},{"t":2680,"k":25.8,"g":16.2,"o":10.4},{"t":2760,"k":26.5,"g":16.7,"o":11.5},{"t":2840,"k":27.6,"g":15.2,"o":10.5},{"t":2920,"k":26.0,"g":16.6,"o":11.0},{"t":3000,"k":27.6,"g":16.1,"o":11.4},{"t":3080,"k":26.8,"g":16.5,"o":10.3},{"t":3160,"k":28.8,"g":15.8,"o":11.4},{"t":3240,"k":27.4,"g":17.4,"o":11.0},{"t":3320,"k":27.0,"g":16.3,"o":11.7},{"t":3400,"k":28.7,"g":17.2,"o":10.7},{"t":3480,"k":28.2,"g":16.2,"o":11.2},{"t":3560,"k":27.2,"g":17.2,"o":11.7},{"t":3640,"k":29.4,"g":16.0,"o":11.1},{"t":3720,"k":28.3,"g":17.7,"o":11.6},{"t":3800,"k":29.2,"g":17.1,"o":11.9},{"t":3880,"k":28.2,"g":16.9,"o":11.5},{"t":3960,"k":30.2,"g":18.1,"o":11.2},{"t":4040,"k":28.4,"g":16.7,"o":12.2},{"t":4120,"k":29.2,"g":17.5,"o":11.4},{"t":4200,"k":29.9,"g":16.5,"o":11.3},{"t":4280,"k":27.8,"g":17.7,"o":11.9},{"t":4360,"k":29.6,"g":17.3,"o":12.3},{"t":4440,"k":28.9,"g":18.0,"o":11.2},{"t":4520,"k":30.2,"g":16.8,"o":12.1},{"t":4600,"k":28.3,"g":17.2,"o":11.8},{"t":4680,"k":29.1,"g":17.9,"o":12.0},{"t":4760,"k":29.9,"g":16.5,"o":11.5},{"t":4840,"k":28.7,"g":18.2,"o":12.6},{"t":4920,"k":29.7,"g":17.1,"o":11.7},{"t":5000,"k":30.1,"g":17.5,"o":12.4},{"t":5080,"k":29.3,"g":16.9,"o":11.6},{"t":5160,"k":28.7,"g":18.3,"o":12.2},{"t":5240,"k":30.5,"g":17.2,"o":11.3},{"t":5320,"k":29.0,"g":17.9,"o":12.5},{"t":5400,"k":28.6,"g":16.6,"o":12.0},{"t":5480,"k":29.7,"g":17.8,"o":11.9},{"t":5560,"k":30.3,"g":18.5,"o":12.7},{"t":5640,"k":28.3,"g":17.1,"o":11.7},{"t":5720,"k":30.0,"g":17.5,"o":12.2}],
"b3":[{"t":0,"a":26.5,"d":20.2,"h":8.4},{"t":80,"a":33.2,"d":18.8,"h":9.7},{"t":160,"a":27.3,"d":20.1,"h":9.6},{"t":240,"a":31.5,"d":20.9,"h":9.2},{"t":320,"a":35.2,"d":20.0,"h":10.6},{"t":400,"a":29.3,"d":22.2,"h":9.3},{"t":480,"a":36.5,"d":21.9,"h":10.5},{"t":560,"a":38.9,"d":23.6,"h":10.4},{"t":640,"a":35.8,"d":22.7,"h":11.2},{"t":720,"a":34.3,"d":23.7,"h":10.1},{"t":800,"a":43.2,"d":23.4,"h":11.3},{"t":880,"a":37.6,"d":25.4,"h":10.9},{"t":960,"a":41.5,"d":25.4,"h":12.3},{"t":1040,"a":40.6,"d":25.0,"h":11.4},{"t":1120,"a":45.2,"d":27.2,"h":10.9},{"t":1200,"a":38.3,"d":25.5,"h":12.3},{"t":1280,"a":44.8,"d":27.4,"h":12.0},{"t":1360,"a":40.9,"d":27.3,"h":11.5},{"t":1440,"a":47.0,"d":28.5,"h":12.8},{"t":1520,"a":43.0,"d":27.3,"h":11.9},{"t":1600,"a":50.0,"d":29.1,"h":12.7},{"t":1680,"a":42.5,"d":28.7,"h":11.5},{"t":1760,"a":46.5,"d":30.7,"h":12.7},{"t":1840,"a":48.0,"d":29.9,"h":13.2},{"t":1920,"a":42.5,"d":29.4,"h":12.3},{"t":2000,"a":50.0,"d":31.4,"h":12.8},{"t":2080,"a":47.0,"d":31.1,"h":13.7},{"t":2160,"a":52.5,"d":30.5,"h":12.4},{"t":2240,"a":47.0,"d":32.5,"h":13.4},{"t":2320,"a":49.5,"d":31.4,"h":13.0},{"t":2400,"a":46.5,"d":32.5,"h":13.8},{"t":2480,"a":53.4,"d":31.1,"h":12.6},{"t":2560,"a":51.8,"d":32.7,"h":14.0},{"t":2640,"a":48.8,"d":33.6,"h":13.5},{"t":2720,"a":56.2,"d":32.4,"h":13.2},{"t":2800,"a":48.1,"d":33.3,"h":14.7},{"t":2880,"a":54.0,"d":34.6,"h":13.5},{"t":2960,"a":52.7,"d":33.0,"h":14.2},{"t":3040,"a":56.8,"d":34.6,"h":13.4},{"t":3120,"a":50.5,"d":34.3,"h":14.8},{"t":3200,"a":62.0,"d":35.5,"h":14.3},{"t":3280,"a":53.8,"d":34.1,"h":13.9},{"t":3360,"a":61.0,"d":36.1,"h":14.8},{"t":3440,"a":55.7,"d":35.7,"h":14.3},{"t":3520,"a":52.3,"d":35.5,"h":15.4},{"t":3600,"a":59.5,"d":37.7,"h":14.2},{"t":3680,"a":57.7,"d":36.3,"h":14.8},{"t":3760,"a":54.3,"d":37.4,"h":15.4},{"t":3840,"a":61.5,"d":36.5,"h":14.2},{"t":3920,"a":56.1,"d":38.4,"h":15.3},{"t":4000,"a":59.7,"d":37.9,"h":15.6},{"t":4080,"a":52.8,"d":37.3,"h":15.0},{"t":4160,"a":58.8,"d":38.6,"h":14.6},{"t":4240,"a":61.4,"d":37.8,"h":16.1},{"t":4320,"a":55.5,"d":39.3,"h":15.0},{"t":4400,"a":58.1,"d":37.8,"h":15.6},{"t":4480,"a":62.7,"d":38.6,"h":15.4},{"t":4560,"a":54.7,"d":39.4,"h":16.1},{"t":4640,"a":59.8,"d":37.8,"h":14.9},{"t":4720,"a":57.4,"d":44.5,"h":16.0},{"t":4800,"a":61.5,"d":39.9,"h":15.3},{"t":4880,"a":54.1,"d":39.0,"h":16.3},{"t":4960,"a":61.2,"d":38.5,"h":15.5},{"t":5040,"a":58.2,"d":40.4,"h":16.8},{"t":5120,"a":55.8,"d":38.9,"h":15.4},{"t":5200,"a":63.9,"d":39.7,"h":16.1},{"t":5280,"a":57.0,"d":39.4,"h":16.4},{"t":5360,"a":60.1,"d":40.4,"h":15.3},{"t":5440,"a":55.2,"d":38.6,"h":16.7},{"t":5520,"a":62.7,"d":40.1,"h":16.1},{"t":5600,"a":59.8,"d":39.1,"h":17.1},{"t":5680,"a":56.9,"d":40.5,"h":16.0},{"t":5760,"a":61.5,"d":39.4,"h":16.5},
{"t":40,"a":31.1,"d":18.2,"h":9.7},{"t":120,"a":26.8,"d":20.0,"h":9.0},{"t":200,"a":32.4,"d":21.4,"h":9.7},{"t":280,"a":27.1,"d":20.2,"h":9.2},{"t":360,"a":36.3,"d":21.2,"h":10.7},{"t":440,"a":33.9,"d":22.6,"h":9.8},{"t":520,"a":34.0,"d":21.4,"h":10.5},{"t":600,"a":40.9,"d":23.3,"h":11.1},{"t":680,"a":34.8,"d":22.9,"h":9.9},{"t":760,"a":39.2,"d":25.1,"h":11.4},{"t":840,"a":35.1,"d":24.3,"h":11.0},{"t":920,"a":42.1,"d":24.2,"h":12.1},{"t":1000,"a":40.8,"d":26.0,"h":11.0},{"t":1080,"a":44.9,"d":25.9,"h":11.6},{"t":1160,"a":39.0,"d":25.2,"h":12.3},{"t":1240,"a":41.6,"d":27.5,"h":11.5},{"t":1320,"a":45.6,"d":26.8,"h":12.3},{"t":1400,"a":39.2,"d":27.8,"h":12.6},{"t":1480,"a":48.3,"d":27.3,"h":12.2},{"t":1560,"a":43.3,"d":29.6,"h":11.9},{"t":1640,"a":45.8,"d":28.3,"h":13.2},{"t":1720,"a":42.8,"d":29.5,"h":12.2},{"t":1800,"a":50.3,"d":30.5,"h":12.1},{"t":1880,"a":45.3,"d":29.1,"h":12.9},{"t":1960,"a":49.3,"d":31.1,"h":13.4},{"t":2040,"a":43.3,"d":30.7,"h":12.1},{"t":2120,"a":49.3,"d":32.1,"h":13.4},{"t":2200,"a":53.3,"d":30.6,"h":12.9},{"t":2280,"a":46.8,"d":31.5,"h":13.3},{"t":2360,"a":49.3,"d":32.5,"h":12.7},{"t":2440,"a":53.2,"d":31.6,"h":14.1},{"t":2520,"a":46.6,"d":32.8,"h":13.1},{"t":2600,"a":52.5,"d":33.3,"h":14.1},{"t":2680,"a":49.5,"d":32.9,"h":13.2},{"t":2760,"a":56.9,"d":32.5,"h":14.1},{"t":2840,"a":51.3,"d":34.5,"h":13.0},{"t":2920,"a":49.3,"d":33.3,"h":14.5},{"t":3000,"a":56.0,"d":33.3,"h":13.9},{"t":3080,"a":54.2,"d":34.5,"h":13.8},{"t":3160,"a":50.3,"d":35.5,"h":15.0},{"t":3240,"a":59.0,"d":33.9,"h":13.9},{"t":3320,"a":54.7,"d":35.8,"h":14.6},{"t":3400,"a":57.6,"d":35.5,"h":13.8},{"t":3480,"a":53.8,"d":36.1,"h":15.0},{"t":3560,"a":61.4,"d":35.5,"h":14.7},{"t":3640,"a":54.6,"d":37.7,"h":15.4},{"t":3720,"a":57.8,"d":36.5,"h":14.4},{"t":3800,"a":60.4,"d":37.9,"h":14.8},{"t":3880,"a":52.5,"d":36.9,"h":15.5},{"t":3960,"a":59.6,"d":38.1,"h":14.3},{"t":4040,"a":56.7,"d":36.7,"h":15.8},{"t":4120,"a":61.8,"d":38.7,"h":14.9},{"t":4200,"a":54.3,"d":38.1,"h":15.4},{"t":4280,"a":57.4,"d":37.9,"h":14.8},{"t":4360,"a":60.5,"d":39.5,"h":16.1},{"t":4440,"a":56.1,"d":38.0,"h":15.2},{"t":4520,"a":59.7,"d":38.9,"h":15.9},{"t":4600,"a":61.3,"d":37.9,"h":14.8},{"t":4680,"a":58.4,"d":39.5,"h":15.8},{"t":4760,"a":56.0,"d":39.2,"h":16.5},{"t":4840,"a":63.0,"d":40.0,"h":15.3},{"t":4920,"a":57.1,"d":38.5,"h":15.7},{"t":5000,"a":55.7,"d":39.1,"h":16.4},{"t":5080,"a":59.8,"d":40.0,"h":15.2},{"t":5160,"a":62.4,"d":38.3,"h":16.3},{"t":5240,"a":54.5,"d":40.4,"h":15.7},{"t":5320,"a":61.0,"d":39.1,"h":17.0},{"t":5400,"a":58.1,"d":39.7,"h":16.0},{"t":5480,"a":59.7,"d":38.9,"h":15.7},{"t":5560,"a":55.8,"d":40.6,"h":16.8},{"t":5640,"a":63.4,"d":39.3,"h":16.4},{"t":5720,"a":57.5,"d":40.2,"h":15.7}],
"b4":[{"t":0,"k":62.2},{"t":80,"k":59.3},{"t":160,"k":59.7},{"t":240,"k":56.3},{"t":320,"k":55.6},{"t":400,"k":51.8},{"t":480,"k":51.8},{"t":560,"k":51.3},{"t":640,"k":48.2},{"t":720,"k":47.6},{"t":800,"k":47.7},{"t":880,"k":44.0},{"t":960,"k":44.2},{"t":1040,"k":42.2},{"t":1120,"k":42.1},{"t":1200,"k":38.7},{"t":1280,"k":39.6},{"t":1360,"k":37.4},{"t":1440,"k":35.4},{"t":1520,"k":36.7},{"t":1600,"k":33.6},{"t":1680,"k":33.4},{"t":1760,"k":30.9},{"t":1840,"k":32.1},{"t":1920,"k":30.1},{"t":2000,"k":28.8},{"t":2080,"k":29.0},{"t":2160,"k":27.6},{"t":2240,"k":28.1},{"t":2320,"k":25.8},{"t":2400,"k":25.8},{"t":2480,"k":25.7},{"t":2560,"k":23.5},{"t":2640,"k":24.1},{"t":2720,"k":23.8},{"t":2800,"k":22.3},{"t":2880,"k":21.0},{"t":2960,"k":22.2},{"t":3040,"k":20.1},{"t":3120,"k":20.1},{"t":3200,"k":19.2},{"t":3280,"k":19.4},{"t":3360,"k":17.1},{"t":3440,"k":17.8},{"t":3520,"k":16.6},{"t":3600,"k":17.0},{"t":3680,"k":15.8},{"t":3760,"k":16.3},{"t":3840,"k":14.5},{"t":3920,"k":14.8},{"t":4000,"k":14.5},{"t":4080,"k":13.3},{"t":4160,"k":14.1},{"t":4240,"k":13.1},{"t":4320,"k":13.6},{"t":4400,"k":12.4},{"t":4480,"k":12.4},{"t":4560,"k":11.5},{"t":4640,"k":12.3},{"t":4720,"k":11.7},{"t":4800,"k":10.8},{"t":4880,"k":11.7},{"t":4960,"k":10.2},{"t":5040,"k":10.8},{"t":5120,"k":10.3},{"t":5200,"k":10.7},{"t":5280,"k":9.4},{"t":5360,"k":10.0},{"t":5440,"k":9.2},{"t":5520,"k":10.0},{"t":5600,"k":8.8},{"t":5680,"k":8.0},{"t":5760,"k":8.9}],
"xa1":[{"t":8333,"v":1.0,"s":"CH₃C(O)COOH"}],
"xa2":[{"t":4444,"v":5.59,"s":"HC(O)OC(O)H"},{"t":18533,"v":0.06,"s":"CH₃OH"}],
"xa3":[{"t":12120,"v":43.8,"s":"CH₃C(O)C(O)CH₃"},{"t":16564,"v":-5.0,"s":"HCOOH"}],
"xa3b":[{"t":3535,"v":38.1,"s":"HCHO"}],
"xa4":[{"t":13130,"v":109.5,"s":"CH₂=C(CH₃)C(O)CH₃"}],
"xb1":[{"t":1384,"v":4.27,"s":"CH₃OH"},{"t":4456,"v":0.12,"s":"CH₃C(O)COOH"}],
"xb2":[{"t":1370,"v":33.5,"s":"CH₂CO"},{"t":3071,"v":36.6,"s":"OHCCHO"},{"t":3720,"v":-1.0,"s":"OHCCH₂OH"}],
"xb3":[{"t":1139,"v":64.8,"s":"CH₃CHO"},{"t":2451,"v":-6.8,"s":"HCHO"},{"t":4745,"v":0,"s":"CH₃C(O)C(O)CH₃"}],
"xb4":[{"t":3317,"v":60.8,"s":"CH₃CH=C(CH₃)C(O)CH₃"}],
"ra1":[{"id":1,"k":0,"t":8787,"v":0.815},{"id":1,"k":1,"t":7934,"v":0.547},{"id":1,"k":2,"t":7626,"v":0.451}],
"ra2":[{"id":1,"k":0,"t":4192,"v":4.94},{"id":1,"k":1,"t":4323,"v":3.94},{"id":1,"k":2,"t":4394,"v":3.41},{"id":2,"k":0,"t":18937,"v":0.53},{"id":2,"k":1,"t":18801,"v":0.92},{"id":2,"k":2,"t":18634,"v":1.41}],
"ra3":[{"id":1,"k":0,"t":3838,"v":30.4},{"id":1,"k":1,"t":3485,"v":25.0},{"id":1,"k":2,"t":3283,"v":21.9},{"id":2,"k":0,"t":12221,"v":40.8},{"id":2,"k":1,"t":11160,"v":24.6},{"id":2,"k":2,"t":10958,"v":21.5},{"id":3,"k":0,"t":16615,"v":-0.38},{"id":3,"k":1,"t":17372,"v":4.35},{"id":3,"k":2,"t":17725,"v":6.54}],
"ra4":[{"id":1,"k":0,"t":15200,"v":91.5},{"id":1,"k":1,"t":14706,"v":72.5},{"id":1,"k":2,"t":14443,"v":62.4}],
"rb1":[{"id":1,"k":0,"t":1399,"v":3.76},{"id":1,"k":1,"t":1377,"v":3.41},{"id":1,"k":2,"t":1355,"v":3.06},{"id":2,"k":0,"t":4773,"v":0.51},{"id":2,"k":1,"t":4773,"v":0.94},{"id":2,"k":2,"t":4773,"v":1.29}],
"rb2":[{"id":1,"k":0,"t":1269,"v":31.4},{"id":1,"k":1,"t":1208,"v":28.3},{"id":1,"k":2,"t":1154,"v":25.5},{"id":2,"k":0,"t":3086,"v":34.2},{"id":2,"k":1,"t":3086,"v":23.4},{"id":2,"k":2,"t":3086,"v":20.2},{"id":3,"k":0,"t":3605,"v":3.49},{"id":3,"k":1,"t":3797,"v":7.67},{"id":3,"k":2,"t":3893,"v":9.77}],
"rb3":[{"id":1,"k":0,"t":1053,"v":57.3},{"id":1,"k":1,"t":1004,"v":49.5},{"id":1,"k":2,"t":966,"v":43.6},{"id":2,"k":0,"t":2423,"v":0},{"id":2,"k":1,"t":2588,"v":7.36},{"id":2,"k":2,"t":2682,"v":11.6},{"id":3,"k":0,"t":4701,"v":6.8},{"id":3,"k":1,"t":4730,"v":30.7},{"id":3,"k":2,"t":4730,"v":36.8}],
"rb4":[{"id":1,"k":0,"t":3461,"v":50.3},{"id":1,"k":1,"t":3145,"v":32.7},{"id":1,"k":2,"t":3057,"v":27.8}]
},
"columns":2,
"spacing":{"row":38,"column":68},
"bounds":"flush",
"concat":[
{"width":436,"height":103,"resolve":{"axis":{"x":"independent","y":"independent"}},"layer":[
{"data":{"name":"a1"},"mark":{"type":"line","stroke":"#000","strokeWidth":1.4},"encoding":{"x":{"field":"t","type":"quantitative","scale":{"domain":[0,22000],"nice":false},"axis":null},"y":{"field":"p","type":"quantitative","scale":{"domain":[0,1.5],"nice":false},"axis":{"orient":"left","values":[0,0.5,1,1.5],"format":".1f","title":"Conc.(ppb)","titleX":-35}}}},
{"data":{"values":[{}]},"mark":{"type":"text","text":"a-1","align":"left","baseline":"middle","dx":7,"fontSize":13},"encoding":{"x":{"datum":0,"type":"quantitative","axis":null},"y":{"datum":1.5,"type":"quantitative","axis":{"orient":"left","values":[0.25,0.75,1.25],"labels":false,"domain":false,"title":null,"tickSize":-3}}}},
{"data":{"name":"xa1"},"mark":{"type":"text","fontSize":14},"encoding":{"x":{"field":"t","type":"quantitative","axis":null},"y":{"field":"v","type":"quantitative","axis":null},"text":{"field":"s"}}},
{"data":{"name":"ra1"},"transform":[{"filter":"datum.k < 2"}],"mark":{"type":"line","stroke":"#000","strokeWidth":1},"encoding":{"x":{"field":"t","type":"quantitative","axis":null},"y":{"field":"v","type":"quantitative","axis":null},"detail":{"field":"id"}}},
{"data":{"name":"ra1"},"transform":[{"filter":"datum.k > 0"}],"mark":{"type":"trail","color":"#000"},"encoding":{"x":{"field":"t","type":"quantitative","axis":null},"y":{"field":"v","type":"quantitative","axis":null},"detail":{"field":"id"},"size":{"field":"k","type":"quantitative","scale":{"domain":[1,2],"range":[7,0],"zero":false},"legend":null}}}
]},
{"width":436,"height":103,"resolve":{"axis":{"x":"independent","y":"independent"}},"layer":[
{"data":{"name":"b1"},"mark":{"type":"line","stroke":"#1a1a1a","strokeWidth":1.0},"encoding":{"x":{"field":"t","type":"quantitative","scale":{"domain":[0,6300],"nice":false},"axis":null},"y":{"field":"m","type":"quantitative","scale":{"domain":[0,4],"nice":false},"axis":{"orient":"left","values":[0,1,2,3,4],"format":"d","title":"Conc.(ppb)","titleX":-26}}}},
{"data":{"name":"b1"},"mark":{"type":"line","stroke":"#1a1a1a","strokeWidth":1.0},"encoding":{"x":{"field":"t","type":"quantitative","axis":null},"y":{"field":"p","type":"quantitative","axis":null}}},
{"data":{"values":[{}]},"mark":{"type":"text","text":"b-1","align":"left","baseline":"middle","dx":7,"fontSize":13},"encoding":{"x":{"datum":0,"type":"quantitative","axis":null},"y":{"datum":4,"type":"quantitative","axis":{"orient":"left","values":[0.5,1.5,2.5,3.5],"labels":false,"domain":false,"title":null,"tickSize":-3}}}},
{"data":{"name":"xb1"},"mark":{"type":"text","fontSize":14},"encoding":{"x":{"field":"t","type":"quantitative","axis":null},"y":{"field":"v","type":"quantitative","axis":null},"text":{"field":"s"}}},
{"data":{"name":"rb1"},"transform":[{"filter":"datum.k < 2"}],"mark":{"type":"line","stroke":"#000","strokeWidth":1},"encoding":{"x":{"field":"t","type":"quantitative","axis":null},"y":{"field":"v","type":"quantitative","axis":null},"detail":{"field":"id"}}},
{"data":{"name":"rb1"},"transform":[{"filter":"datum.k > 0"}],"mark":{"type":"trail","color":"#000"},"encoding":{"x":{"field":"t","type":"quantitative","axis":null},"y":{"field":"v","type":"quantitative","axis":null},"detail":{"field":"id"},"size":{"field":"k","type":"quantitative","scale":{"domain":[1,2],"range":[7,0],"zero":false},"legend":null}}}
]},
{"width":436,"height":103,"resolve":{"axis":{"x":"independent","y":"independent"}},"layer":[
{"data":{"name":"a2"},"mark":{"type":"line","stroke":"#000","strokeWidth":1.4},"encoding":{"x":{"field":"t","type":"quantitative","scale":{"domain":[0,22000],"nice":false},"axis":null},"y":{"field":"f","type":"quantitative","scale":{"domain":[0,6],"nice":false},"axis":{"orient":"left","values":[0,2,4,6],"format":"d","title":"Conc.(ppb)","titleX":-35}}}},
{"data":{"name":"a2"},"mark":{"type":"line","stroke":"#000","strokeWidth":1.4},"encoding":{"x":{"field":"t","type":"quantitative","axis":null},"y":{"field":"m","type":"quantitative","axis":null}}},
{"data":{"values":[{}]},"mark":{"type":"text","text":"a-2","align":"left","baseline":"middle","dx":7,"fontSize":13},"encoding":{"x":{"datum":0,"type":"quantitative","axis":null},"y":{"datum":6,"type":"quantitative","axis":{"orient":"left","values":[1,3,5],"labels":false,"domain":false,"title":null,"tickSize":-3}}}},
{"data":{"name":"xa2"},"mark":{"type":"text","fontSize":14},"encoding":{"x":{"field":"t","type":"quantitative","axis":null},"y":{"field":"v","type":"quantitative","axis":null},"text":{"field":"s"}}},
{"data":{"name":"ra2"},"transform":[{"filter":"datum.k < 2"}],"mark":{"type":"line","stroke":"#000","strokeWidth":1},"encoding":{"x":{"field":"t","type":"quantitative","axis":null},"y":{"field":"v","type":"quantitative","axis":null},"detail":{"field":"id"}}},
{"data":{"name":"ra2"},"transform":[{"filter":"datum.k > 0"}],"mark":{"type":"trail","color":"#000"},"encoding":{"x":{"field":"t","type":"quantitative","axis":null},"y":{"field":"v","type":"quantitative","axis":null},"detail":{"field":"id"},"size":{"field":"k","type":"quantitative","scale":{"domain":[1,2],"range":[7,0],"zero":false},"legend":null}}}
]},
{"width":436,"height":103,"resolve":{"axis":{"x":"independent","y":"independent"}},"layer":[
{"data":{"name":"b2"},"mark":{"type":"line","stroke":"#222","strokeWidth":0.9},"encoding":{"x":{"field":"t","type":"quantitative","scale":{"domain":[0,6300],"nice":false},"axis":null},"y":{"field":"k","type":"quantitative","scale":{"domain":[0,35],"nice":false},"axis":{"orient":"left","values":[0,10,20,30],"format":"d","title":"Conc.(ppb)","titleX":-26}}}},
{"data":{"name":"b2"},"mark":{"type":"line","stroke":"#222","strokeWidth":0.9},"encoding":{"x":{"field":"t","type":"quantitative","axis":null},"y":{"field":"g","type":"quantitative","axis":null}}},
{"data":{"name":"b2"},"mark":{"type":"line","stroke":"#222","strokeWidth":0.9},"encoding":{"x":{"field":"t","type":"quantitative","axis":null},"y":{"field":"o","type":"quantitative","axis":null}}},
{"data":{"values":[{}]},"mark":{"type":"text","text":"b-2","align":"left","baseline":"middle","dx":7,"fontSize":13},"encoding":{"x":{"datum":0,"type":"quantitative","axis":null},"y":{"datum":35,"type":"quantitative","axis":{"orient":"left","values":[5,15,25],"labels":false,"domain":false,"title":null,"tickSize":-3}}}},
{"data":{"name":"xb2"},"mark":{"type":"text","fontSize":14},"encoding":{"x":{"field":"t","type":"quantitative","axis":null},"y":{"field":"v","type":"quantitative","axis":null},"text":{"field":"s"}}},
{"data":{"name":"rb2"},"transform":[{"filter":"datum.k < 2"}],"mark":{"type":"line","stroke":"#000","strokeWidth":1},"encoding":{"x":{"field":"t","type":"quantitative","axis":null},"y":{"field":"v","type":"quantitative","axis":null},"detail":{"field":"id"}}},
{"data":{"name":"rb2"},"transform":[{"filter":"datum.k > 0"}],"mark":{"type":"trail","color":"#000"},"encoding":{"x":{"field":"t","type":"quantitative","axis":null},"y":{"field":"v","type":"quantitative","axis":null},"detail":{"field":"id"},"size":{"field":"k","type":"quantitative","scale":{"domain":[1,2],"range":[7,0],"zero":false},"legend":null}}}
]},
{"width":436,"height":103,"resolve":{"axis":{"x":"independent","y":"independent"}},"layer":[
{"data":{"name":"a3"},"mark":{"type":"line","stroke":"#000","strokeWidth":1.4},"encoding":{"x":{"field":"t","type":"quantitative","scale":{"domain":[0,22000],"nice":false},"axis":null},"y":{"field":"h","type":"quantitative","scale":{"domain":[0,40],"nice":false},"axis":{"orient":"left","values":[0,10,20,30,40],"format":"d","title":"Conc.(ppb)","titleX":-35}}}},
{"data":{"name":"a3"},"mark":{"type":"line","stroke":"#000","strokeWidth":1.4},"encoding":{"x":{"field":"t","type":"quantitative","axis":null},"y":{"field":"d","type":"quantitative","axis":null}}},
{"data":{"name":"a3"},"mark":{"type":"line","stroke":"#000","strokeWidth":1.4},"encoding":{"x":{"field":"t","type":"quantitative","axis":null},"y":{"field":"f","type":"quantitative","axis":null}}},
{"data":{"values":[{}]},"mark":{"type":"text","text":"a-3","align":"left","baseline":"middle","dx":7,"fontSize":13},"encoding":{"x":{"datum":0,"type":"quantitative","axis":null},"y":{"datum":40,"type":"quantitative","axis":{"orient":"left","values":[5,15,25,35],"labels":false,"domain":false,"title":null,"tickSize":-3}}}},
{"data":{"name":"xa3"},"mark":{"type":"text","fontSize":14},"encoding":{"x":{"field":"t","type":"quantitative","axis":null},"y":{"field":"v","type":"quantitative","axis":null},"text":{"field":"s"}}},
{"data":{"name":"xa3b"},"mark":{"type":"text","fontSize":17},"encoding":{"x":{"field":"t","type":"quantitative","axis":null},"y":{"field":"v","type":"quantitative","axis":null},"text":{"field":"s"}}},
{"data":{"name":"ra3"},"transform":[{"filter":"datum.k < 2"}],"mark":{"type":"line","stroke":"#000","strokeWidth":1},"encoding":{"x":{"field":"t","type":"quantitative","axis":null},"y":{"field":"v","type":"quantitative","axis":null},"detail":{"field":"id"}}},
{"data":{"name":"ra3"},"transform":[{"filter":"datum.k > 0"}],"mark":{"type":"trail","color":"#000"},"encoding":{"x":{"field":"t","type":"quantitative","axis":null},"y":{"field":"v","type":"quantitative","axis":null},"detail":{"field":"id"},"size":{"field":"k","type":"quantitative","scale":{"domain":[1,2],"range":[7,0],"zero":false},"legend":null}}}
]},
{"width":436,"height":103,"resolve":{"axis":{"x":"independent","y":"independent"}},"layer":[
{"data":{"name":"b3"},"mark":{"type":"line","stroke":"#1a1a1a","strokeWidth":1.0},"encoding":{"x":{"field":"t","type":"quantitative","scale":{"domain":[0,6300],"nice":false},"axis":null},"y":{"field":"a","type":"quantitative","scale":{"domain":[0,70],"nice":false},"axis":{"orient":"left","values":[0,20,40,60],"format":"d","title":"Conc.(ppb)","titleX":-26}}}},
{"data":{"name":"b3"},"mark":{"type":"line","stroke":"#222","strokeWidth":0.9},"encoding":{"x":{"field":"t","type":"quantitative","axis":null},"y":{"field":"d","type":"quantitative","axis":null}}},
{"data":{"name":"b3"},"mark":{"type":"line","stroke":"#222","strokeWidth":0.9},"encoding":{"x":{"field":"t","type":"quantitative","axis":null},"y":{"field":"h","type":"quantitative","axis":null}}},
{"data":{"values":[{}]},"mark":{"type":"text","text":"b-3","align":"left","baseline":"middle","dx":7,"fontSize":13},"encoding":{"x":{"datum":0,"type":"quantitative","axis":null},"y":{"datum":70,"type":"quantitative","axis":{"orient":"left","values":[10,30,50],"labels":false,"domain":false,"title":null,"tickSize":-3}}}},
{"data":{"name":"xb3"},"mark":{"type":"text","fontSize":14},"encoding":{"x":{"field":"t","type":"quantitative","axis":null},"y":{"field":"v","type":"quantitative","axis":null},"text":{"field":"s"}}},
{"data":{"name":"rb3"},"transform":[{"filter":"datum.k < 2"}],"mark":{"type":"line","stroke":"#000","strokeWidth":1},"encoding":{"x":{"field":"t","type":"quantitative","axis":null},"y":{"field":"v","type":"quantitative","axis":null},"detail":{"field":"id"}}},
{"data":{"name":"rb3"},"transform":[{"filter":"datum.k > 0"}],"mark":{"type":"trail","color":"#000"},"encoding":{"x":{"field":"t","type":"quantitative","axis":null},"y":{"field":"v","type":"quantitative","axis":null},"detail":{"field":"id"},"size":{"field":"k","type":"quantitative","scale":{"domain":[1,2],"range":[7,0],"zero":false},"legend":null}}}
]},
{"width":436,"height":103,"resolve":{"axis":{"x":"independent","y":"independent"}},"layer":[
{"data":{"name":"a4"},"mark":{"type":"line","stroke":"#000","strokeWidth":1.6},"encoding":{"x":{"field":"t","type":"quantitative","scale":{"domain":[0,22000],"nice":false},"axis":{"orient":"bottom","values":[0,5000,10000,15000,20000],"format":"d","title":"Time(s)","labelPadding":12,"titlePadding":0}},"y":{"field":"k","type":"quantitative","scale":{"domain":[0,140],"nice":false},"axis":{"orient":"left","values":[0,40,80,120],"format":"d","title":"Conc.(ppb)","titleX":-35}}}},
{"data":{"values":[{}]},"mark":{"type":"text","text":"a-4","align":"left","baseline":"middle","dx":7,"fontSize":13},"encoding":{"x":{"datum":0,"type":"quantitative","axis":{"orient":"bottom","values":[2500,7500,12500,17500],"labels":false,"domain":false,"title":null,"tickSize":-3}},"y":{"datum":140,"type":"quantitative","axis":{"orient":"left","values":[20,60,100],"labels":false,"domain":false,"title":null,"tickSize":-3}}}},
{"data":{"name":"xa4"},"mark":{"type":"text","fontSize":14},"encoding":{"x":{"field":"t","type":"quantitative","axis":null},"y":{"field":"v","type":"quantitative","axis":null},"text":{"field":"s"}}},
{"data":{"name":"ra4"},"transform":[{"filter":"datum.k < 2"}],"mark":{"type":"line","stroke":"#000","strokeWidth":1},"encoding":{"x":{"field":"t","type":"quantitative","axis":null},"y":{"field":"v","type":"quantitative","axis":null},"detail":{"field":"id"}}},
{"data":{"name":"ra4"},"transform":[{"filter":"datum.k > 0"}],"mark":{"type":"trail","color":"#000"},"encoding":{"x":{"field":"t","type":"quantitative","axis":null},"y":{"field":"v","type":"quantitative","axis":null},"detail":{"field":"id"},"size":{"field":"k","type":"quantitative","scale":{"domain":[1,2],"range":[7,0],"zero":false},"legend":null}}}
]},
{"width":436,"height":103,"resolve":{"axis":{"x":"independent","y":"independent"}},"layer":[
{"data":{"name":"b4"},"mark":{"type":"line","stroke":"#222","strokeWidth":0.9},"encoding":{"x":{"field":"t","type":"quantitative","scale":{"domain":[0,6300],"nice":false},"axis":{"orient":"bottom","values":[0,1000,2000,3000,4000,5000,6000],"format":"d","title":"Time(s)","labelPadding":12,"titlePadding":0}},"y":{"field":"k","type":"quantitative","scale":{"domain":[0,75],"nice":false},"axis":{"orient":"left","values":[0,20,40,60],"format":"d","title":"Conc.(ppb)","titleX":-26}}}},
{"data":{"values":[{}]},"mark":{"type":"text","text":"b-4","align":"left","baseline":"middle","dx":7,"fontSize":13},"encoding":{"x":{"datum":0,"type":"quantitative","axis":{"orient":"bottom","values":[500,1500,2500,3500,4500,5500],"labels":false,"domain":false,"title":null,"tickSize":-3}},"y":{"datum":75,"type":"quantitative","axis":{"orient":"left","values":[10,30,50,70],"labels":false,"domain":false,"title":null,"tickSize":-3}}}},
{"data":{"name":"xb4"},"mark":{"type":"text","fontSize":14},"encoding":{"x":{"field":"t","type":"quantitative","axis":null},"y":{"field":"v","type":"quantitative","axis":null},"text":{"field":"s"}}},
{"data":{"name":"rb4"},"transform":[{"filter":"datum.k < 2"}],"mark":{"type":"line","stroke":"#000","strokeWidth":1},"encoding":{"x":{"field":"t","type":"quantitative","axis":null},"y":{"field":"v","type":"quantitative","axis":null},"detail":{"field":"id"}}},
{"data":{"name":"rb4"},"transform":[{"filter":"datum.k > 0"}],"mark":{"type":"trail","color":"#000"},"encoding":{"x":{"field":"t","type":"quantitative","axis":null},"y":{"field":"v","type":"quantitative","axis":null},"detail":{"field":"id"},"size":{"field":"k","type":"quantitative","scale":{"domain":[1,2],"range":[7,0],"zero":false},"legend":null}}}
]}
]
}
